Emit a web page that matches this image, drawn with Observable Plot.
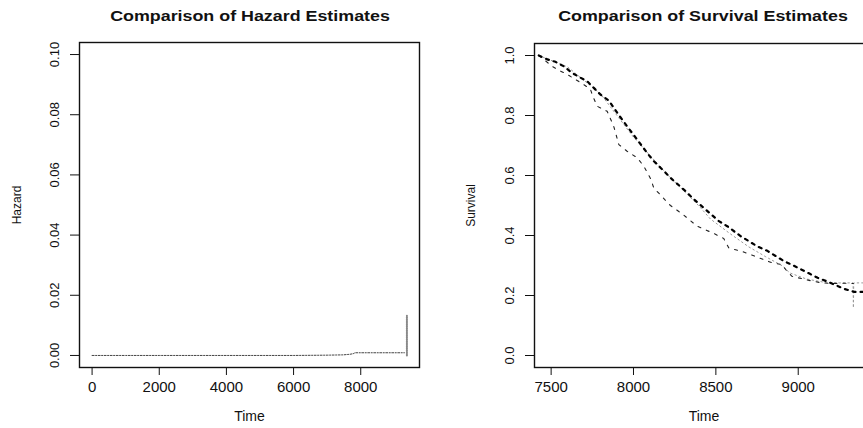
<!DOCTYPE html>
<html><head><meta charset="utf-8">
<script src="https://cdn.jsdelivr.net/npm/d3@7"></script>
<script src="https://cdn.jsdelivr.net/npm/@observablehq/plot@0.6"></script>
<style>
html,body{margin:0;padding:0;background:#fff;overflow:hidden;width:863px;height:428px}
#wrap{position:relative;width:863px;height:428px;overflow:hidden}
.panel{position:absolute;top:0}
.title{position:absolute;top:7px;font:bold 15px "Liberation Sans",Arial,sans-serif;color:#111;white-space:nowrap;transform:translateX(-50%) scaleX(1.19);}
</style></head><body><div id="wrap"></div>
<script>
// ---- Left panel: hazard estimates ----
const hazardTitle = "Comparison of Hazard Estimates";
const hazTime  = [0, 1000, 2000, 3000, 4000, 5000, 6000, 7000, 7480, 7680, 7780, 7830, 9300];
const hazValue = [0.0000, 0.0000, 0.0000, 0.0000, 0.0000, 0.0000, 0.0000, 0.0001, 0.0002, 0.0004, 0.0006, 0.0009, 0.0009];
const spikeTime  = [9375, 9375];
const spikeValue = [0.0000, 0.0132];
const hazXTicks = [0, 2000, 4000, 6000, 8000];
const hazYTicks = [0.00, 0.02, 0.04, 0.06, 0.08, 0.10];

// ---- Right panel: survival estimates ----
const survivalTitle = "Comparison of Survival Estimates";
const survTimeA = [7425,7476,7526,7577,7627,7678,7719,7759,7799,7850,7901,7961,8022,8083,8123,8164,8235,8316,8356,8437,8518,8569,8650,8751,8815,8865,8916,8967,9017,9068,9118,9179,9229,9280,9341,9457];
const survA     = [1.000,0.987,0.979,0.964,0.942,0.926,0.914,0.892,0.870,0.850,0.809,0.764,0.720,0.675,0.648,0.626,0.587,0.548,0.526,0.487,0.448,0.431,0.398,0.364,0.348,0.331,0.314,0.301,0.287,0.273,0.259,0.246,0.234,0.222,0.212,0.212];
const survTimeB = [7425,7506,7557,7597,7648,7698,7739,7749,7779,7840,7880,7911,7961,8022,8063,8103,8123,8164,8224,8305,8386,8487,8548,8578,8669,8751,8841,8901,8932,8962,9023,9084,9145,9206,9267,9335];
const survB     = [1.000,0.964,0.948,0.937,0.920,0.903,0.887,0.870,0.831,0.814,0.764,0.703,0.681,0.659,0.631,0.590,0.559,0.535,0.500,0.468,0.431,0.407,0.390,0.359,0.345,0.328,0.309,0.303,0.281,0.264,0.256,0.248,0.242,0.240,0.241,0.240];
const survTimeC = [7425,7600,7800,8000,8200,8400,8467,8589,8700,8800,8900,8950,9050,9150,9250,9333,9335,9337,9457];
const survC     = [1.000,0.962,0.872,0.728,0.606,0.497,0.455,0.405,0.362,0.330,0.300,0.275,0.255,0.245,0.242,0.242,0.159,0.242,0.242];
const survXTicks = [7500, 8000, 8500, 9000];
const survYTicks = [0.0, 0.2, 0.4, 0.6, 0.8, 1.0];

const rows = (xs, ys) => xs.map((x, i) => ({x, y: ys[i]}));
const font = '"Liberation Sans", Arial, Helvetica, sans-serif';
const wrap = document.getElementById("wrap");

function addTitle(text, cx) {
  const d = document.createElement("div");
  d.className = "title"; d.textContent = text; d.style.left = cx + "px";
  wrap.appendChild(d);
}

const left = Plot.plot({
  width: 430, height: 428,
  marginLeft: 79, marginRight: 11, marginTop: 42, marginBottom: 61,
  style: {fontFamily: font, color: "#111", background: "transparent"},
  x: {domain: [-375, 9750]},
  y: {domain: [-0.004, 0.104]},
  marks: [
    Plot.frame({stroke: "#111", strokeWidth: 1.4}),
    Plot.axisX({ticks: hazXTicks, tickSize: 8, tickPadding: 6, tickFormat: d => String(d), fontSize: 15, label: null}),
    Plot.axisX({ticks: [], label: "Time", labelAnchor: "center", labelOffset: 53, labelArrow: "none", fontSize: 14}),
    Plot.axisY({ticks: hazYTicks, tickSize: 9, tickRotate: -90, tickPadding: 12, tickFormat: d3.format(".2f"), fontSize: 13, label: null}),
    Plot.axisY({ticks: [], label: "Hazard", labelAnchor: "center", labelOffset: 67, labelArrow: "none", fontSize: 12}),
    Plot.line(rows(hazTime, hazValue), {x: "x", y: "y", stroke: "#444", strokeWidth: 1, strokeDasharray: "2,1.5,1,1.5"}),
    Plot.line(rows(spikeTime, spikeValue), {x: "x", y: "y", stroke: "#888", strokeWidth: 2, strokeDasharray: "1,1.2"})
  ]
});
left.classList.add("panel"); left.style.left = "0px";
wrap.appendChild(left);

const right = Plot.plot({
  width: 453, height: 428,
  marginLeft: 104, marginRight: 10, marginTop: 43, marginBottom: 61,
  style: {fontFamily: font, color: "#111", background: "transparent"},
  x: {domain: [7399, 9457]},
  y: {domain: [-0.04, 1.04]},
  marks: [
    Plot.frame({stroke: "#111", strokeWidth: 1.4}),
    Plot.axisX({ticks: survXTicks, tickSize: 8, tickPadding: 6, tickFormat: d => String(d), fontSize: 15, label: null}),
    Plot.axisX({ticks: [], label: "Time", labelAnchor: "center", labelOffset: 53, labelArrow: "none", fontSize: 14}),
    Plot.axisY({ticks: survYTicks, tickSize: 9, tickRotate: -90, tickPadding: 12, tickFormat: d3.format(".1f"), fontSize: 13, label: null}),
    Plot.axisY({ticks: [], label: "Survival", labelAnchor: "center", labelOffset: 68, labelArrow: "none", fontSize: 12}),
    Plot.line(rows(survTimeC, survC), {x: "x", y: "y", stroke: "#999", strokeWidth: 1, strokeDasharray: "1.5,3"}),
    Plot.line(rows(survTimeB, survB), {x: "x", y: "y", stroke: "#222", strokeWidth: 1.1, strokeDasharray: "3,6"}),
    Plot.line(rows(survTimeA, survA), {x: "x", y: "y", stroke: "#000", strokeWidth: 2.2, strokeDasharray: "3,5"})
  ]
});
right.classList.add("panel"); right.style.left = "430px";
wrap.appendChild(right);

addTitle(hazardTitle, 250);
addTitle(survivalTitle, 703);
</script></body></html>
